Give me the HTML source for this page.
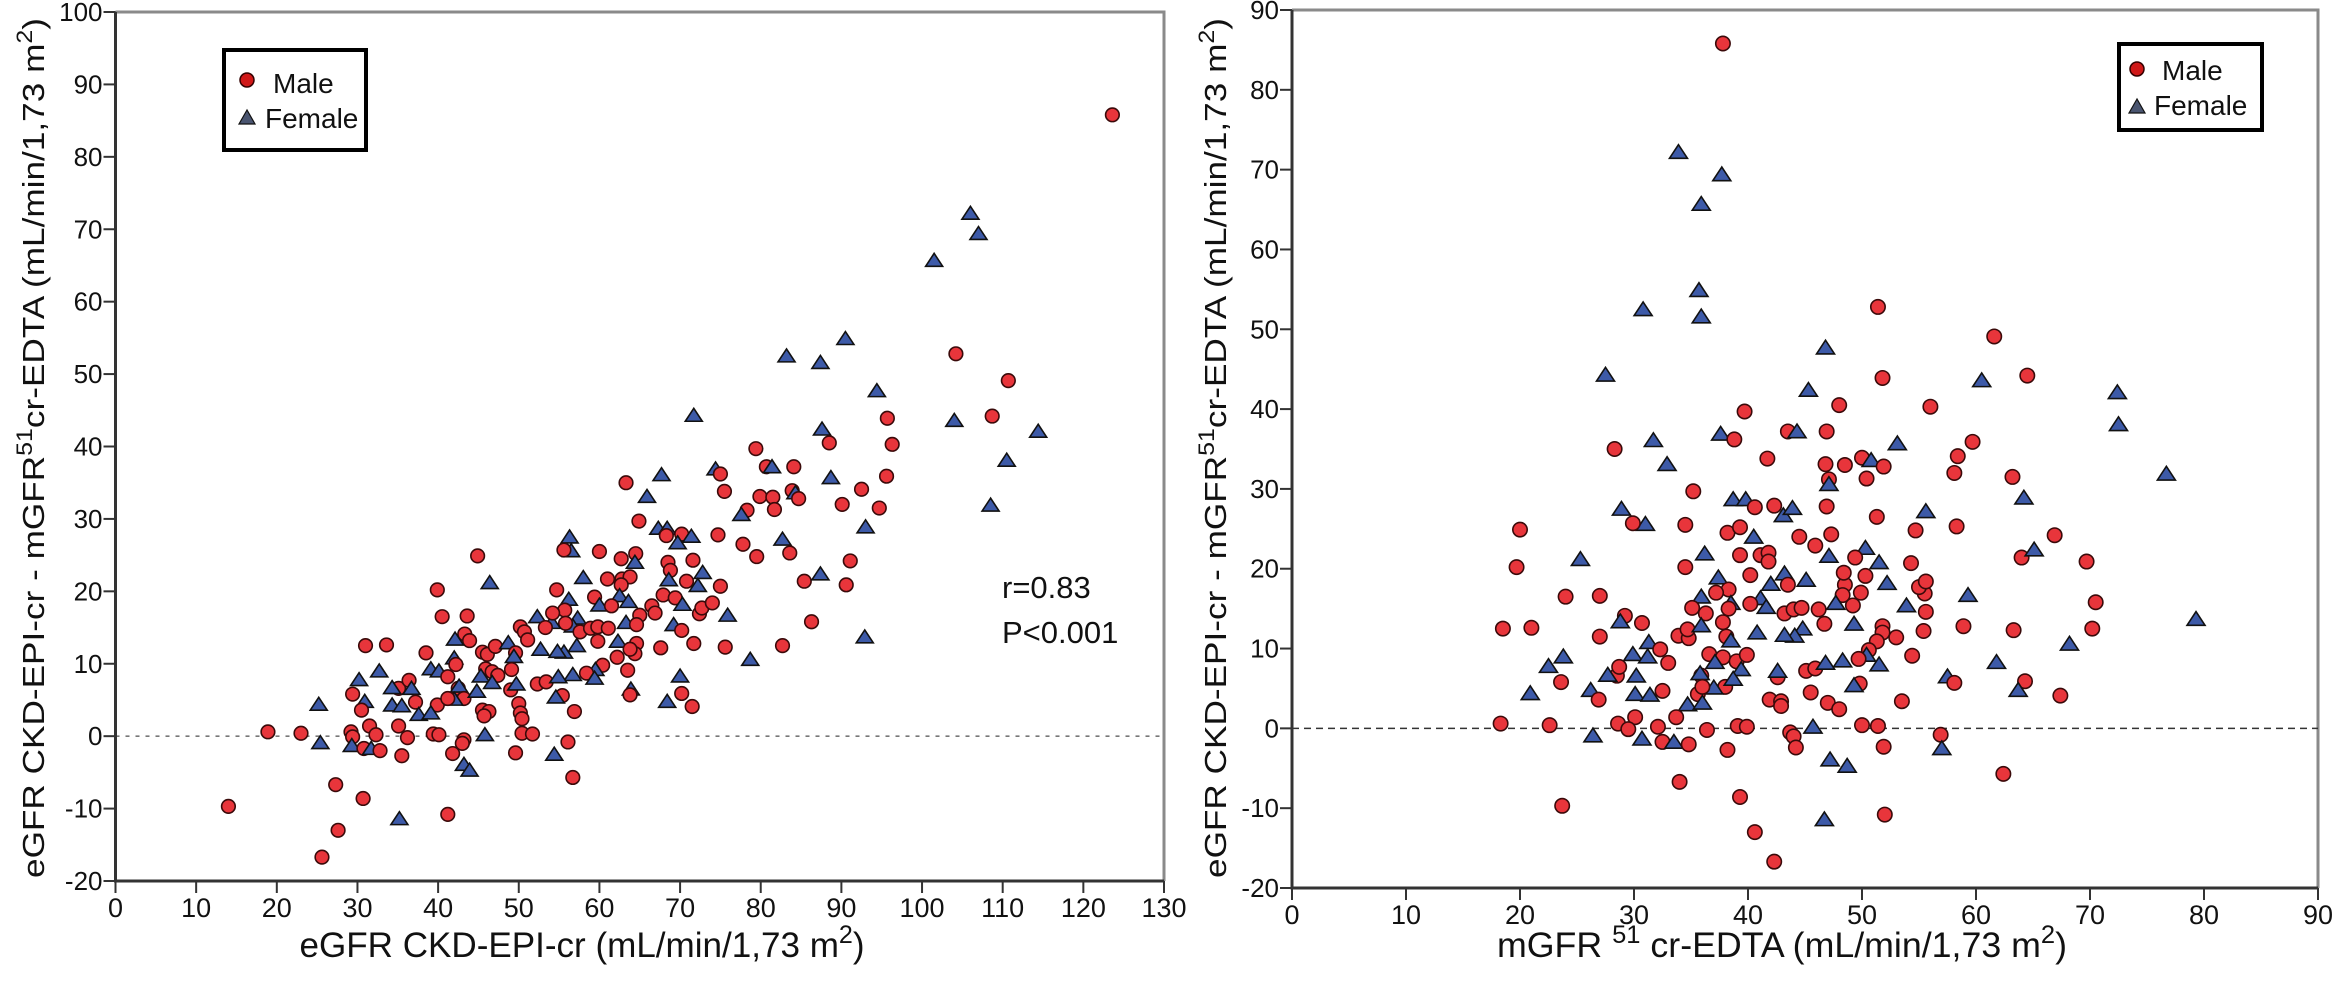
<!DOCTYPE html>
<html><head><meta charset="utf-8"><style>
html,body{margin:0;padding:0;background:#fff;}
svg{display:block;}
text{font-family:"Liberation Sans",sans-serif;fill:#111;}
.xtick{font-size:27px;}
.ytick{font-size:26px;}
</style></head><body>
<svg id="chart" width="2333" height="983" viewBox="0 0 2333 983" xmlns="http://www.w3.org/2000/svg">
<g id="left"></g>
<g id="right"></g>
</svg>
<script>
// eGFR (x of left panel), difference eGFR - mGFR (y), sex (M / F)
const egfr = [123.6,106,107,101.5,90.5,83.2,87.4,104.2,94.4,110.7,95.7,104,108.7,114.4,87.6,110.5,108.5,
88.5,96.3,71.7,79.4,80.7,81.4,84.1,74.4,75,67.7,88.7,95.6,63.3,75.5,79.9,81.5,83.9,84.3,84.7,92.5,65.9,90.1,81.7,78.3,77.6,94.7,93,64.9,67.3,68.4,68.3,70.2,69.7,71.4,74.7,77.8,82.7,83.6,79.5,91.1,56.3,56.5,60,62.7,64.5,64.4,68.5,68.8,71.6,72.8,68.6,70.8,72.2,75,85.4,87.4,90.6,58,61,62.8,63.8,62.7,59.4,56.2,55.7,62.5,63.6,60,61.5,66.5,66.9,67.9,69.4,70.3,72.4,72.7,74,75.9,65,63.3,64.6,57.3,56.7,55.8,57.6,58.9,59.8,61.1,69.2,70.2,59.8,62.3,64.6,64.4,63.8,67.6,71.7,75.6,82.7,86.3,92.9,57.2,55.6,62.2,60.4,63.5,59.5,58.4,56.7,59.4,78.7,70,70.2,63.9,63.8,71.5,68.4,56.9,56.1,55.4,
44.9,46.4,39.9,54.7,40.5,43.6,55.6,52.3,54.1,54.2,43.3,43.9,42.1,50.2,50.7,51.1,53.3,52.7,54.8,31,33.6,38.5,42,42.2,45.5,46.1,47.1,48.7,49.6,49.4,45.9,46.7,47.4,49.1,45.3,46.7,39.1,40.1,41.2,49,49.7,52.3,53.4,54.9,32.7,30.2,35.1,36.4,34.3,36.7,29.4,42.5,42.6,43.2,42,44.8,54.6,37.2,39.9,41.2,30.9,34.3,35.5,30.5,45.5,46.3,45.7,50,50.2,50.4,25.2,37.6,39.1,31.5,35.1,18.9,23,29.2,29.4,32.3,36.2,39.4,40.1,43.2,43,45.8,50.4,51.7,25.4,29.3,30.8,31.7,32.8,35.5,41.8,49.6,54.4,43.2,43.9,56.7,27.3,30.7,14,35.2,41.2,27.6,25.6];
const diff = [85.8,72.1,69.3,65.6,54.8,52.4,51.5,52.8,47.6,49.1,43.9,43.5,44.2,42,42.3,38,31.8,
40.5,40.3,44.2,39.7,37.2,37.1,37.2,36.8,36.2,36,35.6,35.9,35,33.8,33.1,33,33.9,33.5,32.8,34.1,33,32,31.3,31.2,30.5,31.5,28.8,29.7,28.6,28.6,27.7,27.9,26.6,27.5,27.8,26.5,27.1,25.3,24.8,24.2,27.4,25.5,25.5,24.5,25.2,23.9,24,22.9,24.3,22.5,21.5,21.4,20.7,20.7,21.4,22.3,20.9,21.8,21.7,21.7,22,20.9,19.2,18.8,17.4,19.3,18.5,18,18,18,17,19.5,19.1,18.1,16.9,17.7,18.4,16.6,16.7,15.6,15.4,16.2,15.1,15.6,14.4,14.9,15.1,14.9,15.3,14.6,13.1,13,12.8,11.4,12,12.2,12.8,12.3,12.5,15.8,13.6,12.4,11.5,10.9,9.8,9.1,9.1,8.7,8.4,7.9,10.5,8.2,5.9,6.4,5.7,4.1,4.7,3.4,-0.8,5.6,
24.9,21.1,20.2,20.2,16.5,16.6,25.7,16.4,15.6,17,14.1,13.2,13.3,15.1,14.4,13.3,15,11.9,11.6,12.5,12.6,11.5,10.7,9.9,11.6,11.3,12.4,12.8,11.5,10.9,9.3,8.9,8.4,9.2,8.2,7.3,9.2,8.9,8.2,6.4,7.1,7.2,7.5,8.1,8.9,7.7,6.6,7.7,6.6,6.5,5.8,6.6,6.8,5.2,5,6.1,5.3,4.7,4.3,5.2,4.7,4.2,4.1,3.6,3.6,3.4,2.8,4.5,3.2,2.4,4.3,2.9,3.1,1.4,1.4,0.6,0.4,0.6,-0.1,0.2,-0.2,0.3,0.2,-0.5,-1,0.1,0.4,0.3,-1,-1.4,-1.7,-1.8,-2,-2.7,-2.4,-2.3,-2.6,-4,-4.8,-5.7,-6.7,-8.6,-9.7,-11.5,-10.8,-13,-16.7];
const sex = ["M","F","F","F","F","F","F","M","F","M","M","F","M","F","F","F","F",
"M","M","F","M","M","F","M","F","M","F","F","M","M","M","M","M","M","F","M","M","F","M","M","M","F","M","F","M","F","F","M","M","F","F","M","M","F","M","M","M","F","F","M","M","M","F","M","M","M","F","F","M","F","M","M","F","M","F","M","M","M","M","M","F","M","F","F","F","M","M","M","M","M","F","M","M","M","F","M","F","M","F","F","M","M","M","M","M","F","M","M","F","M","M","M","M","M","M","M","M","F","F","F","M","M","M","F","M","F","F","F","F","M","F","M","M","F","M","M","M",
"M","F","M","M","M","M","M","F","F","M","M","M","F","M","M","M","M","F","F","M","M","M","F","M","M","M","M","F","M","F","M","M","M","M","F","F","F","F","M","M","F","M","M","F","F","F","M","M","F","F","M","M","F","M","F","F","F","M","M","M","F","F","F","M","M","M","M","M","M","M","F","F","F","M","M","M","M","M","M","M","M","M","M","M","M","F","M","M","F","F","M","F","M","M","M","M","F","F","F","M","M","M","M","F","M","M","M"];
const leftXTicks = [0,10,20,30,40,50,60,70,80,90,100,110,120,130];
const leftYTicks = [-20,-10,0,10,20,30,40,50,60,70,80,90,100];
const rightXTicks = [0,10,20,30,40,50,60,70,80,90];
const rightYTicks = [-20,-10,0,10,20,30,40,50,60,70,80,90];

const NS="http://www.w3.org/2000/svg";
function mk(parent,tag,attrs,txt){const e=document.createElementNS(NS,tag);for(const k in attrs)e.setAttribute(k,attrs[k]);if(txt!==undefined)e.textContent=txt;parent.appendChild(e);return e;}

function panel(g,cfg){
  const {x0,x1,y0,y1,xmin,xmax,ymin,ymax,xt,yt,r}=cfg;
  const sx=v=>x0+(v-xmin)/(xmax-xmin)*(x1-x0);
  const sy=v=>y0-(v-ymin)/(ymax-ymin)*(y0-y1);
  const frame=mk(g,'path',{d:`M${x0},${y1} H${x1} V${y0}`,fill:'none',stroke:'#8a8a8a','stroke-width':3});
  
  
  const zl=mk(g,'line',{x1:x0,x2:x1,y1:sy(0),y2:sy(0),stroke:cfg.zeroColor,'stroke-width':1.6,'stroke-dasharray':cfg.dash});
  
  
  const ax=mk(g,'path',{d:`M${x0},${y1} V${y0} H${x1}`,fill:'none',stroke:'#333','stroke-width':3});
  
  
  xt.forEach(v=>{
    mk(g,'line',{x1:sx(v),x2:sx(v),y1:y0,y2:y0+12,stroke:'#333','stroke-width':2});
    const t=mk(g,'text',{x:sx(v),y:y0+36,'text-anchor':'middle',class:'xtick'},String(v));
    
    
  });
  yt.forEach(v=>{
    mk(g,'line',{x1:x0-12,x2:x0,y1:sy(v),y2:sy(v),stroke:'#333','stroke-width':2});
    const t=mk(g,'text',{x:x0-13,y:sy(v)+9,'text-anchor':'end',class:'ytick'},String(v));
    
    
  });
  for(let i=0;i<egfr.length;i++){
    const xv=cfg.xval(i), yv=diff[i];
    const px=sx(xv), py=sy(yv);
    if(sex[i]==="M"){
      const c=mk(g,'circle',{cx:px,cy:py,r:r,fill:'#e8353b',stroke:'#3a0a0a','stroke-width':1.6});
      
      
    } else {
      const h=r*1.9, w=r*2.5;
      const p=mk(g,'polygon',{points:`${px},${py-h*0.6} ${px-w/2},${py+h*0.4} ${px+w/2},${py+h*0.4}`,fill:'#3d5aa8',stroke:'#111','stroke-width':1.6});
      
      
    }
  }
}
const L=document.getElementById('left'), R=document.getElementById('right');
panel(L,{x0:115.5,x1:1164,y0:881,y1:12,xmin:0,xmax:130,ymin:-20,ymax:100,xt:leftXTicks,yt:leftYTicks,r:6.8,zeroColor:'#777',dash:'4 6',xval:i=>egfr[i]});
panel(R,{x0:1292,x1:2318,y0:888,y1:10,xmin:0,xmax:90,ymin:-20,ymax:90,xt:rightXTicks,yt:rightYTicks,r:7.2,zeroColor:'#333',dash:'7 5',xval:i=>egfr[i]-diff[i]});

// titles
function title(g,attrs,html,name){const t=mk(g,'text',attrs);t.innerHTML=html;return t;}
title(L,{x:582,y:957,'text-anchor':'middle','font-size':35,textLength:565,lengthAdjust:'spacingAndGlyphs'},'eGFR CKD-EPI-cr (mL/min/1,73 m<tspan dy="-14" font-size="25">2</tspan><tspan dy="14">)</tspan>','x-axis-title');
title(R,{x:1782,y:957,'text-anchor':'middle','font-size':35,textLength:570,lengthAdjust:'spacingAndGlyphs'},'mGFR <tspan dy="-14" font-size="25">51</tspan><tspan dy="14"> cr-EDTA (mL/min/1,73 m</tspan><tspan dy="-14" font-size="25">2</tspan><tspan dy="14">)</tspan>','x-axis-title');
title(L,{x:0,y:0,'text-anchor':'middle','font-size':31,textLength:860,lengthAdjust:'spacingAndGlyphs',transform:'translate(44,448) rotate(-90)'},'eGFR CKD-EPI-cr - mGFR<tspan dy="-12" font-size="22">51</tspan><tspan dy="12">cr-EDTA (mL/min/1,73 m</tspan><tspan dy="-12" font-size="22">2</tspan><tspan dy="12">)</tspan>','y-axis-title');
title(R,{x:0,y:0,'text-anchor':'middle','font-size':31,textLength:860,lengthAdjust:'spacingAndGlyphs',transform:'translate(1226,448) rotate(-90)'},'eGFR CKD-EPI-cr - mGFR<tspan dy="-12" font-size="22">51</tspan><tspan dy="12">cr-EDTA (mL/min/1,73 m</tspan><tspan dy="-12" font-size="22">2</tspan><tspan dy="12">)</tspan>','y-axis-title');
title(L,{x:1002,y:598,'font-size':31},'r=0.83','correlation-coefficient');
title(L,{x:1002,y:643,'font-size':31},'P&lt;0.001','p-value');

// legends
function legend(g,bx,by,bw,bh,cx,cy1,cy2,tx,ty1,ty2){
  const lg=mk(g,'g',{});
  
  
  mk(lg,'rect',{x:bx,y:by,width:bw,height:bh,fill:'#fff',stroke:'#000','stroke-width':4});
  const c=mk(lg,'circle',{cx:cx,cy:cy1,r:7,fill:'#d01818',stroke:'#300','stroke-width':1.5});
  
  
  const p=mk(lg,'polygon',{points:`${cx},${cy2-8} ${cx-8},${cy2+6} ${cx+8},${cy2+6}`,fill:'#4a5570',stroke:'#111','stroke-width':1.2});
  
  
  const t1=mk(lg,'text',{x:tx,y:ty1,'font-size':28},'Male');
  
  
  const t2=mk(lg,'text',{x:tx-8,y:ty2,'font-size':28},'Female');
  
  
}
legend(L,224,50,142,100,247,80,118,273,93,128);
legend(R,2119,44,143,86,2137,69,107,2162,80,115);
</script>
</body></html>
